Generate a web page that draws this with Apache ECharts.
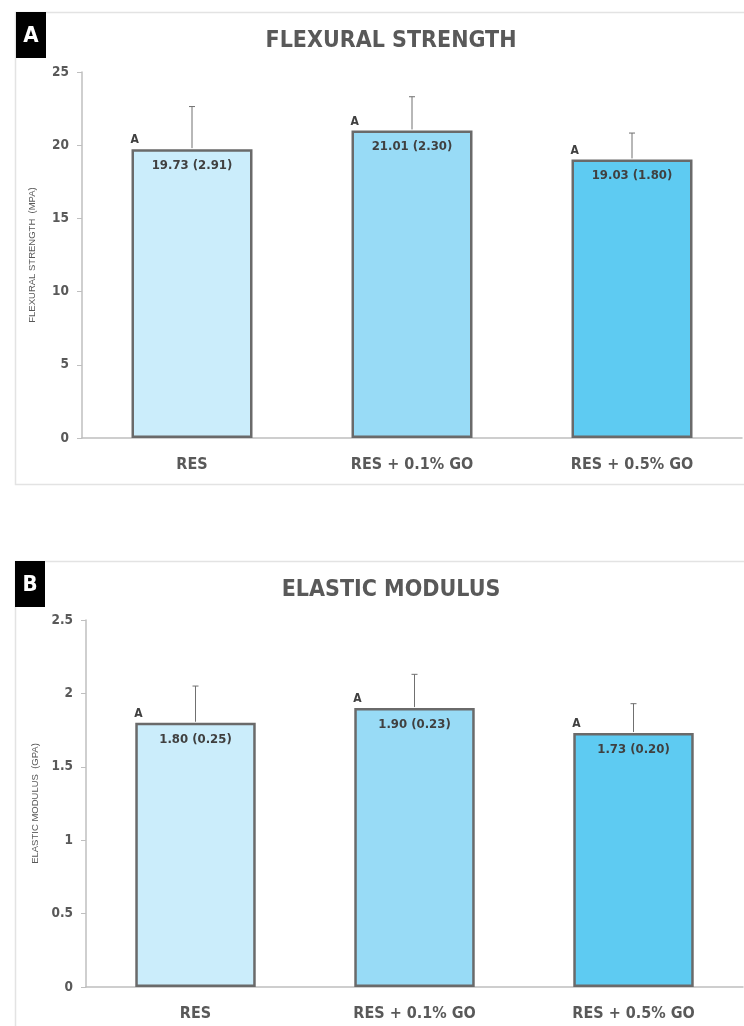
<!DOCTYPE html>
<html>
<head>
<meta charset="utf-8">
<script src="https://cdn.jsdelivr.net/npm/echarts@6/dist/echarts.min.js"></script>
<style>
html,body{margin:0;padding:0;background:#fff;}
#chart{width:744px;height:1026px;}
</style>
</head>
<body>
<div id="chart"></div>
<script>
const categories = ['RES', 'RES + 0.1% GO', 'RES + 0.5% GO'];
const flexMeans = [19.73, 21.01, 19.03];
const flexSD = [2.91, 2.30, 1.80];
const modMeans = [1.80, 1.90, 1.73];
const modSD = [0.25, 0.23, 0.20];
const flexLetters = ['A', 'A', 'A'];
const modLetters = ['A', 'A', 'A'];
const barColors = ['#CBEDFB', '#98DBF6', '#5ECBF2'];
const flexTicks = { min: 0, max: 25, interval: 5 };
const modTicks = { min: 0, max: 2.5, interval: 0.5 };

const FONT = '"Liberation Sans Narrow", "DejaVu Sans Condensed", "Roboto", sans-serif';
const GRAY = '#595959';

const chart = echarts.init(document.getElementById('chart'), null, { renderer: 'canvas' });

function barSeries(idx, means, sds) {
  return {
    type: 'bar',
    xAxisIndex: idx, yAxisIndex: idx,
    barWidth: '55%',
    data: means.map((v, i) => ({
      value: v,
      itemStyle: { color: barColors[i], borderColor: '#6a6a6a', borderWidth: 2.5 }
    })),
    label: {
      show: true,
      position: 'insideTop',
      distance: 10,
      fontFamily: FONT,
      fontWeight: 'bold',
      fontSize: 13,
      color: '#404040',
      formatter: p => means[p.dataIndex].toFixed(2) + ' (' + sds[p.dataIndex].toFixed(2) + ')'
    },
    silent: true
  };
}

function errSeries(idx, means, sds, letters) {
  return {
    type: 'custom',
    xAxisIndex: idx, yAxisIndex: idx,
    data: means.map((v, i) => [i, v, sds[i]]),
    renderItem: function (params, api) {
      const i = api.value(0), m = api.value(1), s = api.value(2);
      const base = api.coord([i, m]);
      const top = api.coord([i, m + s]);
      const bw = api.size([1, 0])[0] * 0.55;
      return {
        type: 'group',
        children: [
          { type: 'line', shape: { x1: base[0], y1: base[1] - 1, x2: top[0], y2: top[1] },
            style: { stroke: '#707070', lineWidth: 1 } },
          { type: 'line', shape: { x1: top[0] - 3, y1: top[1], x2: top[0] + 3, y2: top[1] },
            style: { stroke: '#707070', lineWidth: 1 } },
          { type: 'text', x: base[0] - bw / 2 - 1, y: base[1] - 3,
            style: { text: letters[params.dataIndex], fill: '#404040', font: 'bold 12px ' + FONT,
              textAlign: 'left', textVerticalAlign: 'bottom' } }
        ]
      };
    },
    silent: true,
    z: 5
  };
}

function yAxis(idx, ticks, name) {
  return {
    type: 'value', gridIndex: idx,
    min: ticks.min, max: ticks.max, interval: ticks.interval,
    name: name, nameLocation: 'middle', nameGap: 45,
    nameTextStyle: { fontFamily: '"Liberation Sans", Arial, sans-serif', fontSize: 9.5, color: GRAY },
    axisLine: { show: true, lineStyle: { color: '#bfbfbf', width: 1.5 } },
    axisTick: { show: true, length: 5, lineStyle: { color: '#bfbfbf' } },
    axisLabel: { fontFamily: FONT, fontWeight: 'bold', fontSize: 13.5, color: GRAY, margin: 13 },
    splitLine: { show: false }
  };
}

function xAxis(idx) {
  return {
    type: 'category', gridIndex: idx, data: categories,
    axisLine: { show: true, lineStyle: { color: '#bfbfbf', width: 1.5 } },
    axisTick: { show: false },
    axisLabel: { fontFamily: FONT, fontWeight: 'bold', fontSize: 16, color: GRAY, margin: 19 }
  };
}

const option = {
  animation: false,
  backgroundColor: '#fff',
  title: [
    { text: 'FLEXURAL STRENGTH', left: 386, top: 25, textAlign: 'center',
      textStyle: { fontFamily: FONT, fontWeight: 'bold', fontSize: 23, color: GRAY } },
    { text: 'ELASTIC MODULUS', left: 386, top: 574, textAlign: 'center',
      textStyle: { fontFamily: FONT, fontWeight: 'bold', fontSize: 23, color: GRAY } }
  ],
  grid: [
    { left: 82, top: 72, width: 660, height: 366 },
    { left: 86, top: 620, width: 657, height: 367 }
  ],
  xAxis: [xAxis(0), xAxis(1)],
  yAxis: [yAxis(0, flexTicks, 'FLEXURAL STRENGTH  (MPA)'), yAxis(1, modTicks, 'ELASTIC MODULUS  (GPA)')],
  series: [
    barSeries(0, flexMeans, flexSD),
    errSeries(0, flexMeans, flexSD, flexLetters),
    barSeries(1, modMeans, modSD),
    errSeries(1, modMeans, modSD, modLetters)
  ],
  graphic: [
    { type: 'rect', shape: { x: 15.5, y: 12.5, width: 760, height: 472 },
      style: { fill: 'none', stroke: '#e3e3e3', lineWidth: 1.5 }, z: -1 },
    { type: 'rect', shape: { x: 15.5, y: 561.5, width: 760, height: 500 },
      style: { fill: 'none', stroke: '#e3e3e3', lineWidth: 1.5 }, z: -1 },
    { type: 'rect', shape: { x: 16, y: 12, width: 30, height: 46 }, style: { fill: '#000' } },
    { type: 'text', x: 31, y: 36, style: { text: 'A', fill: '#fff', font: 'bold 22px ' + FONT, textAlign: 'center', textVerticalAlign: 'middle' } },
    { type: 'rect', shape: { x: 15, y: 561, width: 30, height: 46 }, style: { fill: '#000' } },
    { type: 'text', x: 30, y: 585, style: { text: 'B', fill: '#fff', font: 'bold 22px ' + FONT, textAlign: 'center', textVerticalAlign: 'middle' } }
  ]
};
chart.setOption(option);
</script>
</body>
</html>
